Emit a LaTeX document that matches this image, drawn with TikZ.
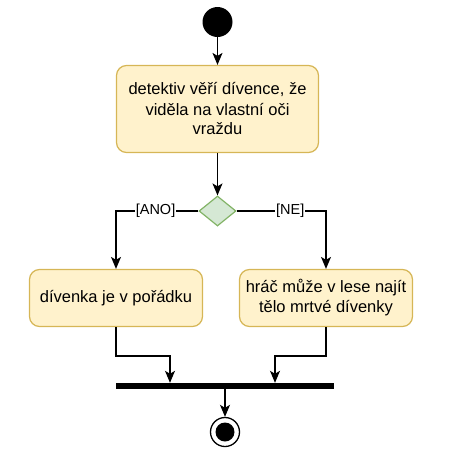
\documentclass[tikz,border=0pt]{standalone}
\usepackage{fontspec}
\setmainfont{Liberation Sans}
\usepackage{xcolor}
\usetikzlibrary{arrows.meta,shapes.geometric}

\definecolor{actfill}{HTML}{FFF2CC}
\definecolor{actline}{HTML}{D6B656}
\definecolor{decfill}{HTML}{D5E8D4}
\definecolor{decline}{HTML}{82B366}

\tikzset{
  action/.style={draw=actline, fill=actfill, rounded corners=10pt, line width=1.2pt,
    align=center, inner sep=0pt, font=\fontsize{16.5}{20}\selectfont},
  flow/.style={-{Stealth[length=12pt,width=10pt,inset=3pt]}, line width=1.3pt},
  guard/.style={fill=white, inner sep=1pt, font=\fontsize{14.5}{17}\selectfont},
}

\begin{document}
\begin{tikzpicture}[x=1pt,y=-1pt]
  \useasboundingbox (0,0) rectangle (450,459);
  % start and first action
  \node[circle, fill=black, minimum size=30pt, inner sep=0pt] (start) at (217.5,22) {};
  \node[action, minimum width=202pt, minimum height=87pt] (detective) at (217.5,109)
    {detektiv věří dívence, že\\viděla na vlastní oči\\vraždu};
  \node[diamond, draw=decline, fill=decfill, line width=1.2pt, inner sep=0pt,
    minimum width=37pt, minimum height=30pt] (choice) at (217.5,211) {};
  % branches
  \node[action, minimum width=173pt, minimum height=57pt] (okay) at (116,298)
    {dívenka je v pořádku};
  \node[action, minimum width=173pt, minimum height=57pt] (found) at (326,298)
    {hráč může v lese najít\\tělo mrtvé dívenky};
  % join and end
  \node[fill=black, minimum width=218pt, minimum height=6pt, inner sep=0pt] (bar) at (225,386) {};
  \node[circle, draw, fill=white, line width=1.3pt, minimum size=29pt, inner sep=0pt] (end) at (225,432) {};
  \fill (end) circle (9.5pt);

  \draw[flow] (start) -- (detective);
  \draw[flow] (detective) -- (choice);
  \draw[flow] (choice.west) -| node[guard, pos=0.26] {[ANO]} (okay.north);
  \draw[flow] (choice.east) -| node[guard, pos=0.3] {[NE]} (found.north);
  \draw[flow] (okay.south) -- ++(0,29) -| ([xshift=-55pt]bar.north);
  \draw[flow] (found.south) -- ++(0,29) -| ([xshift=50pt]bar.north);
  \draw[flow] (bar) -- (end);
\end{tikzpicture}
\end{document}
